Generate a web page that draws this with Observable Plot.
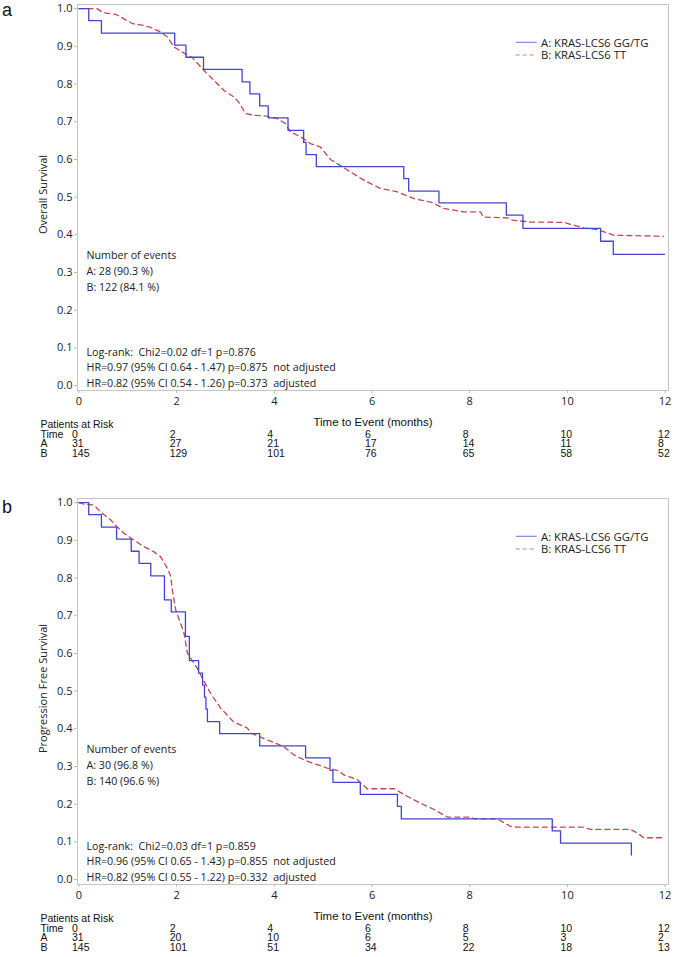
<!DOCTYPE html>
<html><head><meta charset="utf-8">
<script src="https://cdn.jsdelivr.net/npm/d3@7"></script>
<script src="https://cdn.jsdelivr.net/npm/@observablehq/plot@0.6"></script>
<style>
body{margin:0;background:#fff;width:675px;overflow:hidden;}
.panel{position:relative;width:675px;}
.tag{position:absolute;left:2px;font:18px "Liberation Sans",Arial,sans-serif;line-height:normal;color:#111;}
.legend{position:absolute;left:512px;}
</style></head><body>
<div id="pa" class="panel"></div>
<div id="pb" class="panel"></div>
<script>
// ---------- data ----------
const seriesNames = ["A: KRAS-LCS6 GG/TG", "B: KRAS-LCS6 TT"];
const xTicks = [0, 2, 4, 6, 8, 10, 12];
const yTicks = [0, 0.1, 0.2, 0.3, 0.4, 0.5, 0.6, 0.7, 0.8, 0.9, 1.0];
const riskRowLabels = ["Time", "A", "B"];

// Panel a: Overall survival
const osA_time = [0, 0.2, 0.46, 1.96, 2.19, 2.55, 3.34, 3.50, 3.70, 3.875, 4.28, 4.60, 4.65, 4.86, 6.65, 6.75, 7.37, 8.75, 9.09, 10.68, 10.94, 11.99];
const osA_surv = [1, 0.968, 0.935, 0.903, 0.871, 0.839, 0.806, 0.774, 0.742, 0.710, 0.677, 0.645, 0.613, 0.581, 0.549, 0.516, 0.485, 0.452, 0.417, 0.383, 0.348, 0.348];
const osB_time = [0, 0.37, 0.5, 0.75, 0.92, 1.1, 1.3, 1.47, 1.67, 1.81, 1.95, 2.11, 2.32, 2.56, 2.76, 2.97, 3.17, 3.27, 3.41, 3.58, 3.85, 4.06, 4.23, 4.33, 4.54, 4.74, 4.94, 5.15, 5.36, 5.56, 5.83, 6.17, 6.52, 6.86, 7.2, 7.47, 7.87, 8.22, 8.28, 8.77, 8.87, 9.25, 9.92, 10.34, 10.61, 10.95, 11.97];
const osB_surv = [1, 1, 0.989, 0.985, 0.973, 0.96, 0.956, 0.95, 0.938, 0.925, 0.898, 0.885, 0.870, 0.836, 0.810, 0.783, 0.766, 0.752, 0.722, 0.717, 0.715, 0.708, 0.695, 0.673, 0.660, 0.642, 0.633, 0.600, 0.583, 0.567, 0.545, 0.523, 0.514, 0.496, 0.487, 0.470, 0.461, 0.461, 0.447, 0.445, 0.439, 0.434, 0.433, 0.418, 0.414, 0.399, 0.396];
const osEvents = ["Number of events", "A: 28 (90.3 %)", "B: 122 (84.1 %)"];
const osStats = ["Log-rank:  Chi2=0.02 df=1 p=0.876", "HR=0.97 (95% CI 0.64 - 1.47) p=0.875  not adjusted", "HR=0.82 (95% CI 0.54 - 1.26) p=0.373  adjusted"];
const osRiskA = [31, 27, 21, 17, 14, 11, 8];
const osRiskB = [145, 129, 101, 76, 65, 58, 52];

// Panel b: Progression free survival
const pfsA_time = [0, 0.2, 0.46, 0.77, 1.07, 1.23, 1.47, 1.75, 1.89, 2.18, 2.26, 2.45, 2.53, 2.57, 2.60, 2.63, 2.88, 3.70, 4.64, 5.14, 5.20, 5.76, 6.52, 6.60, 9.69, 9.86, 11.31];
const pfsA_surv = [1, 0.968, 0.935, 0.903, 0.871, 0.839, 0.806, 0.742, 0.710, 0.645, 0.581, 0.548, 0.516, 0.484, 0.452, 0.419, 0.387, 0.355, 0.323, 0.290, 0.258, 0.226, 0.194, 0.161, 0.129, 0.097, 0.065];
const pfsB_time = [0, 0.1, 0.3, 0.44, 0.65, 0.78, 0.92, 1.12, 1.33, 1.53, 1.67, 1.81, 1.88, 1.91, 1.98, 2.08, 2.15, 2.22, 2.42, 2.56, 2.69, 2.90, 3.17, 3.45, 3.51, 3.85, 4.19, 4.40, 4.67, 4.88, 5.08, 5.29, 5.42, 5.70, 5.90, 6.45, 6.72, 6.99, 7.27, 7.54, 8.02, 8.09, 8.56, 8.84, 8.97, 10.34, 10.47, 11.29, 11.43, 11.56, 11.97];
const pfsB_surv = [1, 0.996, 0.994, 0.976, 0.954, 0.936, 0.919, 0.901, 0.883, 0.870, 0.857, 0.826, 0.804, 0.769, 0.716, 0.680, 0.654, 0.601, 0.561, 0.526, 0.495, 0.455, 0.418, 0.402, 0.389, 0.371, 0.353, 0.331, 0.314, 0.305, 0.296, 0.290, 0.278, 0.265, 0.241, 0.241, 0.221, 0.203, 0.186, 0.166, 0.166, 0.161, 0.161, 0.141, 0.139, 0.139, 0.133, 0.133, 0.124, 0.111, 0.111];
const pfsEvents = ["Number of events", "A: 30 (96.8 %)", "B: 140 (96.6 %)"];
const pfsStats = ["Log-rank:  Chi2=0.03 df=1 p=0.859", "HR=0.96 (95% CI 0.65 - 1.43) p=0.855  not adjusted", "HR=0.82 (95% CI 0.55 - 1.22) p=0.332  adjusted"];
const pfsRiskA = [31, 20, 10, 6, 5, 3, 2];
const pfsRiskB = [145, 101, 51, 34, 22, 18, 13];

// ---------- styles ----------
const colA = "#4444d4", colB = "#c94646";
const SANS = "'Open Sans', 'Noto Sans', sans-serif";
const ARIAL = "'Liberation Sans', Arial, sans-serif";
const TFS = 10.5; // risk table font size
const rowDy = [47.5, 56.8, 66];

function pre(s) { return s.replace(/  /g, "\u00a0 "); }

function panel(el, tag, tagTop, height, ylabel, At, As, Bt, Bs, events, stats, riskA, riskB) {
  const A = At.map((t, i) => ({t, s: As[i]}));
  const B = Bt.map((t, i) => ({t, s: Bs[i]}));
  const rows = [xTicks, riskA, riskB];
  const txt = (arr, opts) => arr.map((str, i) => Plot.text([pre(str)], {
    text: d => d, frameAnchor: "bottom-left", textAnchor: "start", lineAnchor: "middle",
    fontFamily: SANS, fontSize: 10.7, fill: "#222", ...opts, dy: opts.dy + i * 15.8
  }));
  const plot = Plot.plot({
    width: 675, height,
    marginLeft: 77, marginRight: 7, marginTop: 4, marginBottom: height - 390,
    x: {domain: [-0.03, 12.07]},
    y: {domain: [-0.013, 1.011]},
    style: {fontFamily: SANS, fontSize: "11px", background: "#fff"},
    marks: [
      Plot.frame({stroke: "#c6c6c6"}),
      Plot.axisX({ticks: xTicks, tickSize: 3, tickPadding: 4, stroke: "#b8b8b8", fill: "#222", label: null, tickFormat: d => String(d), fontSize: 11}),
      Plot.axisY({ticks: yTicks, tickSize: 3, tickPadding: 2, stroke: "#b8b8b8", fill: "#222", label: null, tickFormat: d3.format(".1f"), fontSize: 11}),
      Plot.line(B, {x: "t", y: "s", stroke: colB, strokeWidth: 1.3, strokeDasharray: "5,4"}),
      Plot.line(A, {x: "t", y: "s", curve: "step-after", stroke: colA, strokeWidth: 1.3}),
      ...txt(events, {dx: 9, dy: -135}),
      ...txt(stats, {dx: 9, dy: -38.3}),
      Plot.text([ylabel], {text: d => d, frameAnchor: "left", textAnchor: "middle", dx: -34, dy: -3, rotate: -90, fontFamily: SANS, fontSize: 11, fill: "#222"}),
      Plot.text(["Time to Event (months)"], {text: d => d, frameAnchor: "bottom", textAnchor: "middle", dy: 35, fontFamily: ARIAL, fontSize: 11.5, fill: "#111"}),
      Plot.text(["Patients at Risk"], {text: d => d, frameAnchor: "bottom-left", dx: -37, dy: 37.7, textAnchor: "start", fontFamily: ARIAL, fontSize: TFS, fill: "#111"}),
      ...riskRowLabels.map((lab, r) => Plot.text([lab], {text: d => d, frameAnchor: "bottom-left", dx: -37, dy: rowDy[r], textAnchor: "start", fontFamily: ARIAL, fontSize: TFS, fill: "#111"})),
      ...rows.map((vals, r) => Plot.text(vals.map((n, i) => ({t: xTicks[i], n})), {x: "t", text: d => String(d.n), frameAnchor: "bottom", dx: -7, dy: rowDy[r], textAnchor: "start", fontFamily: ARIAL, fontSize: TFS, fill: "#111"}))
    ]
  });
  const host = document.getElementById(el);
  host.style.height = height + "px";
  host.appendChild(plot);
  const t = document.createElement("div");
  t.className = "tag"; t.style.top = tagTop + "px"; t.textContent = tag;
  host.appendChild(t);
  // legend
  const ns = "http://www.w3.org/2000/svg";
  const lg = document.createElementNS(ns, "svg");
  lg.setAttribute("class", "legend"); lg.setAttribute("width", 160); lg.setAttribute("height", 30);
  lg.style.top = "34px";
  const cols = [colA, colB], dash = [null, "4,3"];
  seriesNames.forEach((name, i) => {
    const yy = 8.3 + i * 12.7;
    const ln = document.createElementNS(ns, "line");
    ln.setAttribute("x1", 3.7); ln.setAttribute("x2", 24.7); ln.setAttribute("y1", yy); ln.setAttribute("y2", yy);
    ln.setAttribute("stroke", cols[i]); ln.setAttribute("stroke-width", 1.1); ln.setAttribute("stroke-opacity", 0.7);
    if (dash[i]) ln.setAttribute("stroke-dasharray", dash[i]);
    lg.appendChild(ln);
    const tx = document.createElementNS(ns, "text");
    tx.setAttribute("x", 29); tx.setAttribute("y", yy + 4.2);
    tx.setAttribute("font-family", SANS); tx.setAttribute("font-size", 11.3); tx.setAttribute("fill", "#222");
    tx.textContent = name;
    lg.appendChild(tx);
  });
  host.appendChild(lg);
}

panel("pa", "a", 0, 494, "Overall Survival", osA_time, osA_surv, osB_time, osB_surv, osEvents, osStats, osRiskA, osRiskB);
panel("pb", "b", 3, 463, "Progression Free Survival", pfsA_time, pfsA_surv, pfsB_time, pfsB_surv, pfsEvents, pfsStats, pfsRiskA, pfsRiskB);
</script>
</body></html>
